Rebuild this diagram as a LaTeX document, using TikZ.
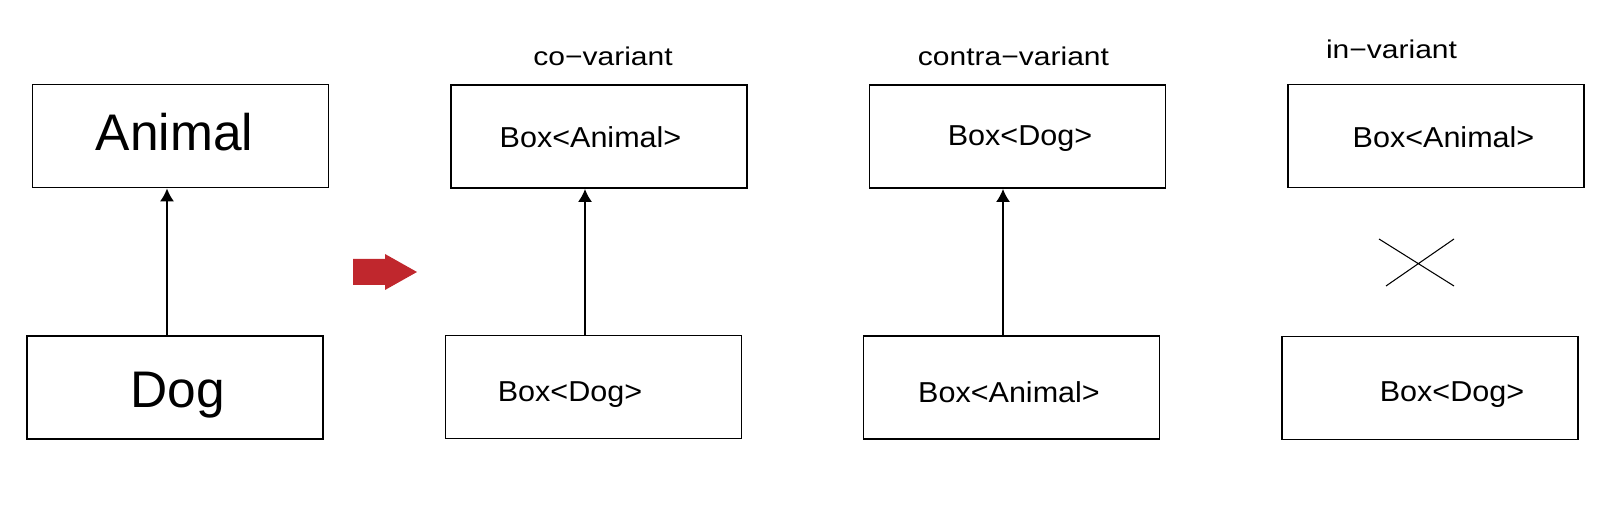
\documentclass[tikz,border=0pt]{standalone}
\usepackage{fontspec}
\setmainfont{Liberation Sans}
\newfontfamily\widefont[FakeStretch=1.06]{Liberation Sans}
\newfontfamily\headfont[FakeStretch=1.17]{Liberation Sans}
\usepackage{xcolor}
\usepackage{tikz}
\usetikzlibrary{calc, arrows.meta}
\tikzstyle{every node}=[font=\widefont\fontsize{16.4}{19}\selectfont]
\tikzstyle{classbox}=[draw, line width=1.1pt, minimum width=5.92cm, minimum height=2.06cm, inner sep=0pt]
\tikzstyle{bigname}=[anchor=base, font=\rmfamily\fontsize{29.3}{34}\selectfont]
\tikzstyle{variance}=[anchor=base, font=\headfont\fontsize{14.6}{17}\selectfont]
\tikzstyle{inherit}=[-{Latex[length=0.26cm, width=0.28cm]}, line width=0.8pt]

\begin{document}
\begin{tikzpicture}
	\useasboundingbox (0,0) rectangle (31.94,10.14);
	\definecolor{redarrow}{RGB}{192,39,45};

%%%%     CLASSES     %%%%

	% boites
	\node[classbox] (animal) at (3.61,7.42) {};
	\node[classbox] (dog) at (3.50,2.39) {};
	\node[bigname] (tanimal) at (3.49,7.12) {Animal};
	\node[bigname] (tdog) at (3.56,1.98) {Dog};

	% heritage
	\coordinate (a1) at (3.34,0);
	\draw[inherit] (dog.north -| a1) -- (animal.south -| a1);

	% fleche rouge
	\fill[redarrow] (7.06,4.44) -- (7.70,4.44) -- (7.70,4.34) -- (8.34,4.70)
		-- (7.70,5.06) -- (7.70,4.96) -- (7.06,4.96) -- cycle;

%%%%     CO-VARIANT     %%%%

	\node[variance] (hco) at (12.06,8.82) {co−variant};
	\node[classbox] (co1) at (11.98,7.41) {};
	\node[classbox] (co2) at (11.87,2.40) {};
	\node[anchor=base] (tco1) at (11.81,7.19) {Box<Animal>};
	\node[anchor=base] (tco2) at (11.40,2.10) {Box<Dog>};
	\coordinate (a2) at (11.70,0);
	\draw[inherit] (co2.north -| a2) -- (co1.south -| a2);

%%%%     CONTRA-VARIANT     %%%%

	\node[variance] (hcn) at (20.27,8.82) {contra−variant};
	\node[classbox] (cn1) at (20.35,7.41) {};
	\node[classbox] (cn2) at (20.23,2.39) {};
	\node[anchor=base] (tcn1) at (20.40,7.23) {Box<Dog>};
	\node[anchor=base] (tcn2) at (20.18,2.08) {Box<Animal>};
	\coordinate (a3) at (20.06,0);
	\draw[inherit] (cn2.north -| a3) -- (cn1.south -| a3);

%%%%     IN-VARIANT     %%%%

	\node[variance] (hin) at (27.83,8.96) {in−variant};
	\node[classbox] (in1) at (28.72,7.42) {};
	\node[classbox] (in2) at (28.60,2.38) {};
	\node[anchor=base] (tin1) at (28.87,7.18) {Box<Animal>};
	\node[anchor=base] (tin2) at (29.04,2.10) {Box<Dog>};

	% croix
	\draw[line width=0.6pt] (27.58,5.36) -- (29.08,4.42) (29.08,5.36) -- (27.72,4.42);

\end{tikzpicture}
\end{document}
